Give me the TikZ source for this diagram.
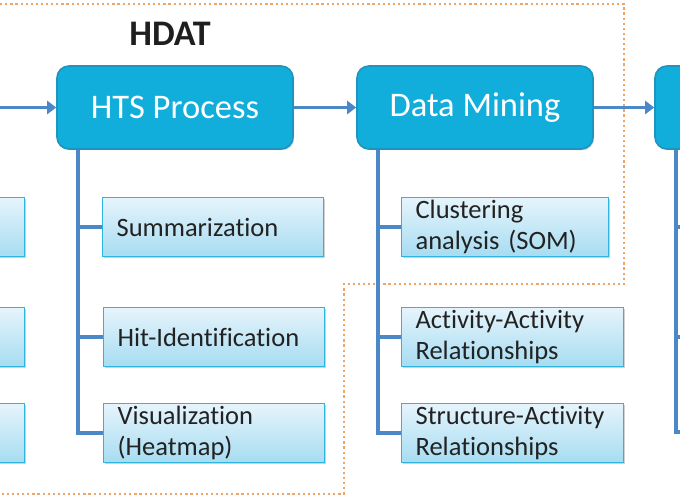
\documentclass[tikz,border=0pt]{standalone}
\usepackage{fontspec}
\setmainfont{Carlito}[Ligatures=NoCommon]
\usetikzlibrary{arrows.meta,shadows,calc}
\definecolor{mainfill}{HTML}{12AEDB}
\definecolor{mainborder}{HTML}{1E94BE}
\definecolor{subtop}{HTML}{E6F4FB}
\definecolor{subbot}{HTML}{A6DCF2}
\definecolor{subborder}{HTML}{2FB3DF}
\definecolor{linecol}{HTML}{4C87C8}
\definecolor{dotcol}{HTML}{F0A566}
\definecolor{textgray}{HTML}{222222}
\tikzset{
  mainbox/.style={draw=mainborder, line width=1.6pt, fill=mainfill, rounded corners=12pt,
    minimum width=236pt, minimum height=83pt, inner sep=0pt, text=white,
    font=\fontsize{34.5}{40}\selectfont,
    drop shadow={shadow xshift=1.2pt, shadow yshift=-1.2pt, opacity=0.2, fill=black}},
  subbox/.style={draw=subborder, line width=1.2pt, top color=subtop, bottom color=subbot,
    minimum height=59pt, inner xsep=14pt, inner ysep=0pt, align=left, text=textgray,
    font=\fontsize{26.5}{31.5}\selectfont,
    drop shadow={shadow xshift=1.5pt, shadow yshift=-1.5pt, opacity=0.18, fill=black}},
  conn/.style={draw=linecol, line width=3.6pt},
  arr/.style={conn, -{Triangle[width=13pt,length=9pt]}},
  hdatline/.style={draw=dotcol, line width=2.2pt, dash pattern=on 2.2pt off 2.9pt},
  hdatlabel/.style={font=\fontsize{36}{40}\selectfont\bfseries, text=black!88}
}
\begin{document}
\begin{tikzpicture}[x=1pt,y=-1pt]
\useasboundingbox (0,0) rectangle (680,500);
\clip (0,0) rectangle (680,500);

% HDAT dotted region
\draw[hdatline] (-5,4) -- (624,4) -- (624,284) -- (344,284) -- (344,494) -- (-5,494);
\node[hdatlabel] (hdat) at (170,34) {HDAT};

% main boxes
\node[mainbox] (hts) at (175,107.5) {\raisebox{-1.5pt}{HTS Process}};
\node[mainbox] (dm) at (475,107.5) {\raisebox{-1.5pt}{Data Mining}};
\node[mainbox] (res) at (773,107.5) {};

% left partial boxes
\node[subbox, text width=193pt, anchor=north east] (l1) at (25,197) {};
\node[subbox, text width=193pt, anchor=north east] (l2) at (25,307) {};
\node[subbox, text width=193pt, anchor=north east] (l3) at (25,403) {};

% HTS sub boxes
\node[subbox, text width=193pt, anchor=north west] (s1) at (102,197) {Summarization};
\node[subbox, text width=193pt, anchor=north west] (s2) at (103,307) {Hit-Identification};
\node[subbox, text width=193pt, anchor=north west] (s3) at (103,403) {Visualization\\(Heatmap)};

% Data mining sub boxes
\node[subbox, text width=179pt, anchor=north west] (d1) at (401,197) {Clustering\\analysis (SOM)};
\node[subbox, text width=194pt, anchor=north west] (d2) at (401,307) {Activity-Activity\\Relationships};
\node[subbox, text width=194pt, anchor=north west] (d3) at (401,403) {Structure-Activity\\Relationships};

% arrows between main boxes
\coordinate (lsrc) at (-10,107.5);
\draw[arr] (lsrc) -- (hts.west);
\draw[arr] (hts.east) -- (dm.west);
\draw[arr] (dm.east) -- (res.west);

% HTS tree
\coordinate (hv) at ([xshift=22pt]hts.south west);
\draw[conn] (hv) |- (s3.west);
\draw[conn] (s1.west) -- (s1.west -| hv);
\draw[conn] (s2.west) -- (s2.west -| hv);

% Data mining tree
\coordinate (dv) at ([xshift=22pt]dm.south west);
\draw[conn] (dv) |- (d3.west);
\draw[conn] (d1.west) -- (d1.west -| dv);
\draw[conn] (d2.west) -- (d2.west -| dv);

% right tree (off-screen children)
\coordinate (rv) at ([xshift=22pt]res.south west);
\coordinate (r1) at (705,227);
\coordinate (r2) at (705,337);
\coordinate (r3) at (705,432);
\draw[conn] (rv) |- (r3);
\draw[conn] (r1 -| rv) -- (r1);
\draw[conn] (r2 -| rv) -- (r2);
\end{tikzpicture}
\end{document}
